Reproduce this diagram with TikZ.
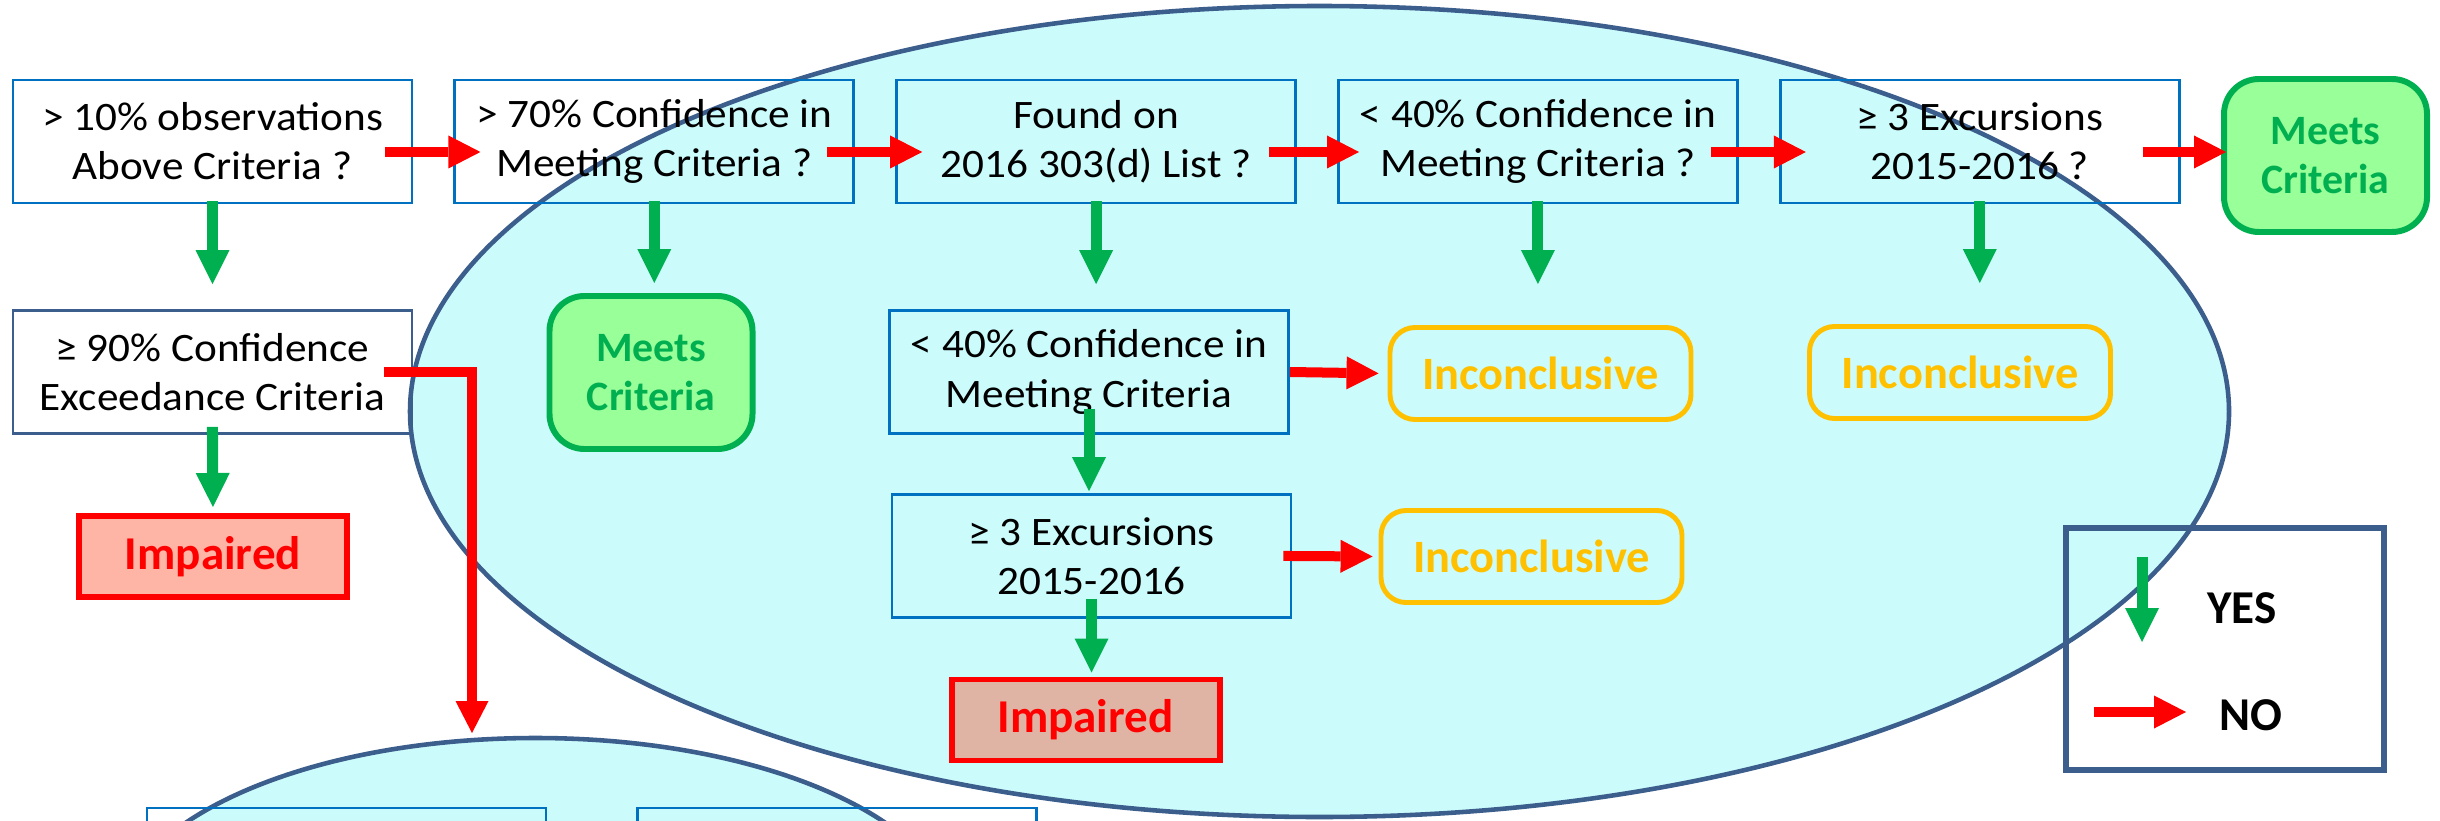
\documentclass[tikz,border=0pt]{standalone}
\usepackage{fontspec}
\setmainfont{Carlito}
\newfontfamily\widefont{Carlito}[FakeStretch=1.07]
\usetikzlibrary{positioning,chains,shapes.geometric,arrows.meta,calc}
\definecolor{setcyan}{RGB}{204,251,252}
\definecolor{setblue}{RGB}{59,94,140}
\definecolor{boxblue}{RGB}{0,112,192}
\definecolor{mygreen}{RGB}{0,176,80}
\definecolor{lightgreen}{RGB}{153,255,153}
\definecolor{myorange}{RGB}{255,192,0}
\definecolor{myred}{RGB}{255,0,0}
\definecolor{salmon}{RGB}{255,181,165}
\definecolor{dimsalmon}{RGB}{224,180,164}

\begin{document}
\begin{tikzpicture}[
  qnode/.style={draw=boxblue,line width=0.8pt,minimum width=3.99cm,minimum height=1.23cm,
    inner sep=0pt,align=center,font=\widefont\fontsize{11.5}{14}\selectfont},
  meetnode/.style={draw=mygreen,fill=lightgreen,line width=1.7pt,rounded corners=0.35cm,
    minimum width=2.03cm,minimum height=1.53cm,inner sep=0pt,align=center,text=mygreen,
    font=\bfseries\fontsize{11.9}{13.9}\selectfont},
  incnode/.style={draw=myorange,line width=1.4pt,rounded corners=0.25cm,minimum width=3.01cm,
    minimum height=0.92cm,inner sep=0pt,text=myorange,font=\bfseries\fontsize{13.2}{15}\selectfont},
  impnode/.style={draw=myred,line width=1.7pt,minimum width=2.68cm,minimum height=0.81cm,
    inner sep=0pt,text=myred,font=\bfseries\fontsize{13.4}{15}\selectfont},
  setnode/.style={ellipse,draw=setblue,fill=setcyan,line width=1.3pt,inner sep=0pt},
  yesarrow/.style={draw=mygreen,line width=0.11cm,-{Triangle[length=0.34cm,width=0.34cm,line width=0pt]}},
  noarrow/.style={draw=myred,line width=0.1cm,-{Triangle[length=0.32cm,width=0.33cm,line width=0pt]}}
]
\useasboundingbox (0,0) rectangle (24.4,-8.2);
\clip (0,0) rectangle (24.4,-8.2);

% the two sets
\node[setnode,minimum width=18.19cm,minimum height=8.11cm] (yesset) at (13.195,-4.115) {};
\node[setnode,minimum width=8.4cm,minimum height=3.8cm] (lowset) at (5.355,-9.28) {};

% the questions
\begin{scope}[start chain=going right,node distance=4mm]
  \node[qnode,on chain] (q1) at (2.125,-1.415) {> 10\% observations\\Above Criteria ?};
  \node[qnode,on chain] (q2) {> 70\% Confidence in\\Meeting Criteria ?};
  \node[qnode,on chain] (q3) {Found on\\2016 303(d) List ?};
  \node[qnode,on chain] (q4) {< 40\% Confidence in\\Meeting Criteria ?};
  \node[qnode,on chain] (q5) {≥ 3 Excursions\\2015-2016 ?};
\end{scope}
\node[meetnode] (m1) at (23.255,-1.555) {Meets\\Criteria};

\node[qnode,draw=setblue] (c1) at (2.125,-3.72) {≥ 90\% Confidence\\Exceedance Criteria};
\node[meetnode] (m2) at (6.51,-3.725) {Meets\\Criteria};
\node[qnode] (c3) at (10.89,-3.72) {< 40\% Confidence in\\Meeting Criteria};
\node[incnode] (inc1) at (15.405,-3.735) {Inconclusive};
\node[incnode] (inc2) at (19.60,-3.725) {Inconclusive};

\node[impnode,fill=salmon] (imp1) at (2.13,-5.565) {Impaired};
\node[qnode] (d3) at (10.915,-5.56) {≥ 3 Excursions\\2015-2016};
\node[incnode] (inc3) at (15.315,-5.565) {Inconclusive};
\node[impnode,fill=dimsalmon] (imp2) at (10.855,-7.20) {Impaired};

% the boxes of the lower set
\node[qnode] (e1) at (3.465,-8.695) {};
\node[qnode] (e2) at (8.37,-8.695) {};

% the legend
\node[draw=setblue,line width=1.7pt,minimum width=3.18cm,minimum height=2.42cm] (legend) at (22.25,-6.49) {};
\node[font=\bfseries\fontsize{13.4}{15}\selectfont] (yeslbl) at (22.42,-6.08) {YES};
\node[font=\bfseries\fontsize{13.4}{15}\selectfont] (nolbl) at (22.51,-7.15) {NO};
\coordinate (ytop) at (21.42,-5.57);
\coordinate (ybot) at (21.42,-6.42);
\coordinate (nleft) at (20.94,-7.12);
\coordinate (nright) at (21.86,-7.12);
\coordinate (drop) at (4.72,-7.33);

% the no edges
\draw[noarrow,shorten <=-2.8mm,shorten >=-2.7mm] ([yshift=-1.05mm]q1.east) -- ([yshift=-1.05mm]q2.west);
\draw[noarrow,shorten <=-2.8mm,shorten >=-2.7mm] ([yshift=-1.05mm]q2.east) -- ([yshift=-1.05mm]q3.west);
\draw[noarrow,shorten <=-2.8mm,shorten >=-2.2mm] ([yshift=-1.05mm]q3.east) -- ([yshift=-1.05mm]q4.west);
\draw[noarrow,shorten <=-2.8mm,shorten >=-2.7mm] ([yshift=-1.05mm]q4.east) -- ([yshift=-1.05mm]q5.west);
\draw[noarrow,shorten <=-3.8mm,shorten >=-0.5mm] ([yshift=-1.05mm]q5.east) -- ([yshift=-1.05mm]q5.east -| m1.west);
\draw[noarrow,shorten >=0.9mm] (c3.east) -- (inc1.west);
\draw[noarrow,shorten <=-0.9mm,shorten >=0.6mm] (d3.east) -- (inc3.west);
\draw[noarrow] ([xshift=-2.9mm]c1.east) -| (drop);

% the yes edges
\draw[yesarrow,shorten <=-0.3mm,shorten >=2.5mm] (q1.south) -- (c1.north);
\draw[yesarrow,shorten <=-0.3mm,shorten >=1mm] (q2.south) -- (q2.south |- m2.north);
\draw[yesarrow,shorten <=-0.3mm,shorten >=2.5mm] (q3.south) -- (q3.south |- c3.north);
\draw[yesarrow,shorten <=-0.3mm,shorten >=4.1mm] (q4.south) -- (q4.south |- inc1.north);
\draw[yesarrow,shorten <=-0.3mm,shorten >=4.1mm] (q5.south) -- (q5.south |- inc2.north);
\draw[yesarrow,shorten <=-0.8mm,shorten >=0.6mm] (c1.south) -- (imp1.north);
\draw[yesarrow,shorten <=-2.6mm,shorten >=0.2mm] (c3.south) -- (c3.south |- d3.north);
\draw[yesarrow,shorten <=-2mm,shorten >=0.4mm] (d3.south) -- (d3.south |- imp2.north);

% the legend edges
\draw[yesarrow] (ytop) -- (ybot);
\draw[noarrow] (nleft) -- (nright);
\end{tikzpicture}
\end{document}
